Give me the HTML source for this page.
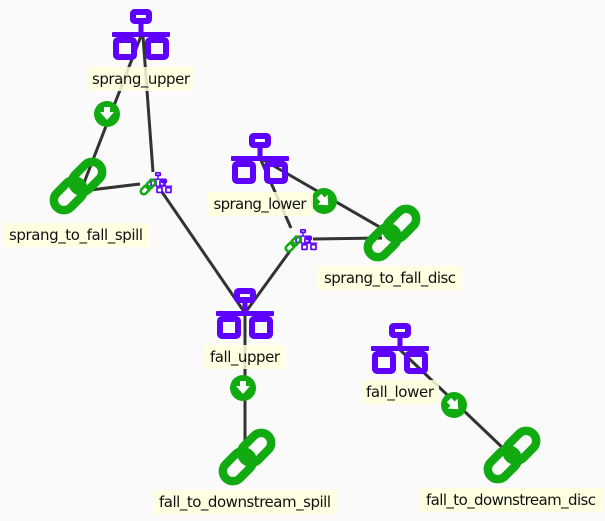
<!DOCTYPE html>
<html><head><meta charset="utf-8"><style>
body{margin:0;background:#fafafa;}
svg{display:block}
text{font-family:"DejaVu Sans","Liberation Sans",sans-serif;font-size:15px;fill:#111}
</style></head><body>
<svg width="605" height="521" viewBox="0 0 605 521" xmlns="http://www.w3.org/2000/svg">
<defs>
<g id="srv">
<rect x="-8" y="-22" width="16" height="9" rx="1.5" fill="none" stroke="#5e00ff" stroke-width="6"/>
<rect x="-2.5" y="-11" width="5" height="10" fill="#5e00ff"/>
<rect x="-29" y="-2" width="58" height="5" rx="1" fill="#5e00ff"/>
<rect x="-25" y="6" width="18" height="17" rx="2" fill="none" stroke="#5e00ff" stroke-width="6"/>
<rect x="7" y="6" width="18" height="17" rx="2" fill="none" stroke="#5e00ff" stroke-width="6"/>
</g>
<g id="lnk" fill="none" stroke="#11aa11" stroke-width="8.5">
<g transform="rotate(-45)">
<rect x="-30" y="-10" width="34" height="20" rx="10"/>
<rect x="-4" y="-10" width="34" height="20" rx="10"/>
</g>
</g>
<g id="small">
<g transform="translate(8,-2) scale(0.28)"><use href="#srv"/></g>
<g transform="translate(14,5) scale(0.28)"><use href="#srv"/></g>
<g transform="translate(-2,6) scale(0.3)"><use href="#lnk"/></g>
</g>
<g id="cd"><circle r="13" fill="#11aa11"/><path d="M-3,-7 h6 v5 h4 l-7,8 l-7,-8 h4z" fill="#fff"/></g>
<g id="cdr"><circle r="13" fill="#11aa11"/><g transform="rotate(-45)"><path d="M-3,-7 h6 v5 h4 l-7,8 l-7,-8 h4z" fill="#fff"/></g></g>
</defs>
<g stroke="#333" stroke-width="3" fill="none">
<line x1="141" y1="36" x2="82" y2="188"/>
<line x1="143" y1="36" x2="153" y2="172"/>
<line x1="140" y1="184" x2="82" y2="191"/>
<line x1="162" y1="192" x2="245" y2="313"/>
<line x1="260" y1="158" x2="390" y2="233"/>
<line x1="260" y1="158" x2="291" y2="228"/>
<line x1="313" y1="239" x2="382" y2="238"/>
<line x1="290" y1="251" x2="245" y2="313"/>
<line x1="245" y1="313" x2="245" y2="458"/>
<line x1="398" y1="348" x2="505" y2="450"/>
</g>
<use href="#srv" x="141" y="34"/>
<use href="#srv" x="260" y="158"/>
<use href="#srv" x="245" y="313"/>
<use href="#srv" x="400" y="348"/>
<use href="#lnk" x="78" y="186"/>
<use href="#lnk" x="392" y="233"/>
<use href="#lnk" x="247" y="457"/>
<use href="#lnk" x="512" y="455"/>
<use href="#small" x="150" y="181"/>
<use href="#small" x="295" y="238"/>
<use href="#cd" x="107" y="114"/>
<use href="#cdr" x="324" y="201"/>
<use href="#cd" x="243" y="388"/>
<use href="#cdr" x="454" y="405"/>
<g fill="#ffffdd" fill-opacity="0.85">
<rect x="87" y="67" width="107" height="24"/>
<rect x="207" y="192" width="106" height="24"/>
<rect x="3" y="223" width="147" height="24"/>
<rect x="317" y="266" width="145" height="24"/>
<rect x="204" y="345" width="82" height="24"/>
<rect x="362" y="380" width="77" height="24"/>
<rect x="153" y="490" width="185" height="24"/>
<rect x="420" y="488" width="183" height="24"/>
</g>
<text x="141" y="84" text-anchor="middle" textLength="98">sprang_upper</text>
<text x="260" y="209" text-anchor="middle" textLength="93">sprang_lower</text>
<text x="76" y="240" text-anchor="middle" textLength="134">sprang_to_fall_spill</text>
<text x="390" y="283" text-anchor="middle" textLength="132">sprang_to_fall_disc</text>
<text x="245" y="362" text-anchor="middle" textLength="70">fall_upper</text>
<text x="400" y="397" text-anchor="middle" textLength="68">fall_lower</text>
<text x="245" y="507" text-anchor="middle" textLength="172">fall_to_downstream_spill</text>
<text x="511" y="505" text-anchor="middle" textLength="170">fall_to_downstream_disc</text>
</svg>
</body></html>
